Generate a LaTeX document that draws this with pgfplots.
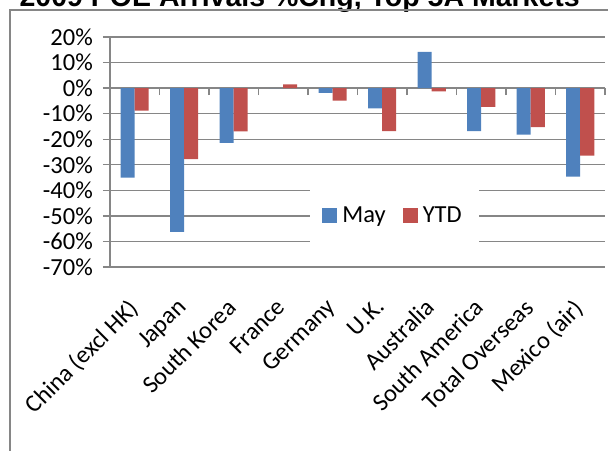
\documentclass[border=0pt]{standalone}
\usepackage{fontspec}
\setmainfont{Carlito}
\newfontfamily\titlefont{Liberation Sans}
\usepackage{pgfplots}
\pgfplotsset{compat=1.18}
\definecolor{mayblue}{HTML}{4F81BD}
\definecolor{ytdred}{HTML}{C0504D}
\definecolor{gridgray}{HTML}{868686}

\begin{document}
\begin{tikzpicture}[x=1pt,y=1pt]
\useasboundingbox (0,0) rectangle (608,450);
\clip (0,0) rectangle (608,450);
% title, mostly cut off at the top edge
\node[anchor=base east, inner sep=0pt, font=\titlefont\bfseries\fontsize{28.5}{32}\selectfont]
  at (580,443) {2009 POE Arrivals \%Chg, Top 5A Markets};
% chart frame
\draw[gridgray, line width=1.5pt] (10,-5) -- (10,440) -- (615,440);

\begin{axis}[
    scale only axis,
    width=495pt, height=230pt,
    at={(110pt,183pt)}, anchor=south west,
    xmin=-0.5, xmax=9.5,
    ymin=-70, ymax=20,
    ybar=0pt, bar width=14pt,
    axis y line*=left,
    axis x line*=middle,
    axis line style={gridgray, line width=1.3pt},
    tick style={gridgray, line width=1.3pt},
    tick align=outside,
    major tick length=7pt,
    ymajorgrids,
    grid style={gridgray, line width=1.3pt},
    ytick={-70,-60,-50,-40,-30,-20,-10,0,10,20},
    yticklabels={-70\%,-60\%,-50\%,-40\%,-30\%,-20\%,-10\%,0\%,10\%,20\%},
    xtick={-0.5,0.5,...,9.5},
    x tick label as interval,
    xticklabels={China (excl HK),Japan,South Korea,France,Germany,U.K.,Australia,South America,Total Overseas,Mexico (air)},
    tick label style={font=\fontsize{24.5}{28}\selectfont},
    yticklabel style={inner sep=0pt, xshift=-10pt},
    xticklabel style={xshift=-8pt, rotate=45, anchor=north east, inner sep=0pt},
    xticklabel shift=202pt,
    hide obscured x ticks=false,
    legend columns=2,
    legend style={at={(0.575,0.224)}, anchor=center, draw=none, fill=white,
        font=\fontsize{24.5}{28}\selectfont, inner xsep=12pt, inner ysep=30pt,
        nodes={inner xsep=5pt},
        /tikz/every even column/.append style={column sep=12pt}},
    legend image code/.code={\fill[#1,draw=none] (0pt,-7.5pt) rectangle (15pt,7.5pt);},
]
\addplot[fill=mayblue, draw=none] coordinates {
    (0,-35.0) (1,-56.3) (2,-21.4) (3,0) (4,-1.9)
    (5,-7.9) (6,14.2) (7,-16.8) (8,-18.2) (9,-34.6)
};
\addlegendentry{May}
\addplot[fill=ytdred, draw=none] coordinates {
    (0,-8.8) (1,-27.8) (2,-16.9) (3,1.5) (4,-4.9)
    (5,-16.8) (6,-1.3) (7,-7.3) (8,-15.3) (9,-26.4)
};
\addlegendentry{YTD}
\end{axis}
\end{tikzpicture}
\end{document}
